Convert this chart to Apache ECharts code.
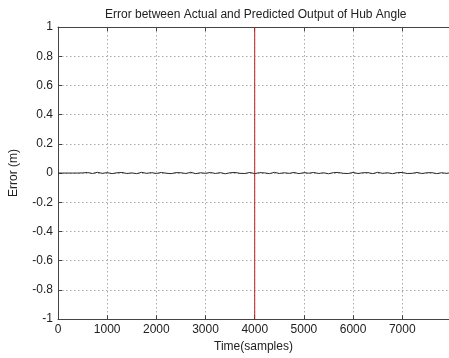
<!DOCTYPE html>
<html>
<head>
<meta charset="utf-8">
<script src="https://cdn.jsdelivr.net/npm/echarts@6/dist/echarts.min.js"></script>
<style>
  html, body { margin: 0; padding: 0; background: #fff; }
  #chart { width: 449px; height: 358px; }
</style>
</head>
<body>
<div id="chart"></div>
<script>
// Prediction error of the hub angle, one value every 100 samples
const sampleStep = 100;
const errorValues = [
  0, 0, 0, 0, 0, 0.001,
  0.004, -0.003, 0.005, -0.002, 0.003, -0.004, 0.002, 0.004, -0.003, 0.001,
  -0.004, 0.005, -0.002, 0.003, -0.003, 0.004, -0.001, -0.004, 0.003, 0.002,
  -0.003, 0.005, -0.004, 0.002, -0.002, 0.004, -0.003, 0.003, -0.005, 0.002,
  0.004, -0.002, -0.003, 0.004, -0.004, 0.003, 0.001, -0.004, 0.005, -0.003,
  0.002, -0.002, 0.004, -0.004, 0.003, -0.001, 0.004, -0.003, 0.002, -0.005,
  0.003, 0.004, -0.002, -0.003, 0.004, -0.003, 0.002, 0.003, -0.004, 0.005,
  -0.002, 0.002, -0.004, 0.003, 0.004, -0.003, -0.002, 0.004, -0.003, 0.002,
  0.003, -0.004, 0.002, -0.002, 0.003
];
// Boundary between training and testing samples
const splitSample = 4000;
const xTicks = [0, 1000, 2000, 3000, 4000, 5000, 6000, 7000];
const yTicks = [-1, -0.8, -0.6, -0.4, -0.2, 0, 0.2, 0.4, 0.6, 0.8, 1];

const errorSeries = errorValues.map((v, i) => [i * sampleStep, v]);

const font = 'Liberation Sans, Arial, sans-serif';
const axisColor = '#444';
const gridLine = { show: true, lineStyle: { color: '#a8a8a8', type: [1.5, 2.5], width: 1 } };

const chart = echarts.init(document.getElementById('chart'), null, { renderer: 'canvas' });
chart.setOption({
  animation: false,
  backgroundColor: '#fff',
  title: {
    text: 'Error between Actual and Predicted Output of Hub Angle',
    left: 105,
    top: 9,
    padding: 0,
    textStyle: { fontFamily: font, fontSize: 12, fontWeight: 'normal', color: '#222' }
  },
  grid: { left: 57, top: 27, right: 0, bottom: 33, containLabel: false },
  xAxis: [{
    type: 'value',
    min: xTicks[0],
    max: 7950,
    interval: xTicks[1] - xTicks[0],
    name: 'Time(samples)',
    nameLocation: 'middle',
    nameGap: 19,
    nameTextStyle: { fontFamily: font, fontSize: 12, color: '#222' },
    axisLine: { show: true, onZero: false, lineStyle: { color: axisColor, width: 1 } },
    axisTick: { show: true, inside: true, length: 4, lineStyle: { color: axisColor } },
    axisLabel: {
      fontFamily: font, fontSize: 12, color: '#222', margin: 5,
      showMaxLabel: false,
      formatter: v => (xTicks.includes(v) ? String(v) : '')
    },
    splitLine: gridLine
  }, {
    type: 'value',
    position: 'top',
    min: xTicks[0],
    max: 7950,
    interval: xTicks[1] - xTicks[0],
    axisLine: { show: true, onZero: false, lineStyle: { color: axisColor, width: 1 } },
    axisTick: { show: true, inside: true, length: 4, lineStyle: { color: axisColor } },
    axisLabel: { show: false },
    splitLine: { show: false }
  }],
  yAxis: {
    type: 'value',
    min: yTicks[0],
    max: yTicks[yTicks.length - 1],
    interval: 0.2,
    name: 'Error (m)',
    nameLocation: 'middle',
    nameGap: 38,
    nameTextStyle: { fontFamily: font, fontSize: 12, color: '#222' },
    axisLine: { show: true, onZero: false, lineStyle: { color: axisColor, width: 1 } },
    axisTick: { show: true, inside: true, length: 4, lineStyle: { color: axisColor } },
    axisLabel: {
      fontFamily: font, fontSize: 12, color: '#222', margin: 5,
      formatter: v => String(Math.round(v * 10) / 10)
    },
    splitLine: gridLine
  },
  series: [{
    type: 'line',
    data: errorSeries,
    symbol: 'none',
    lineStyle: { color: '#2a2a2a', width: 1 },
    z: 3
  }, {
    type: 'line',
    data: [[splitSample, yTicks[0]], [splitSample, yTicks[yTicks.length - 1]]],
    symbol: 'none',
    lineStyle: { color: '#b82020', width: 1 },
    z: 4
  }]
});
</script>
</body>
</html>
